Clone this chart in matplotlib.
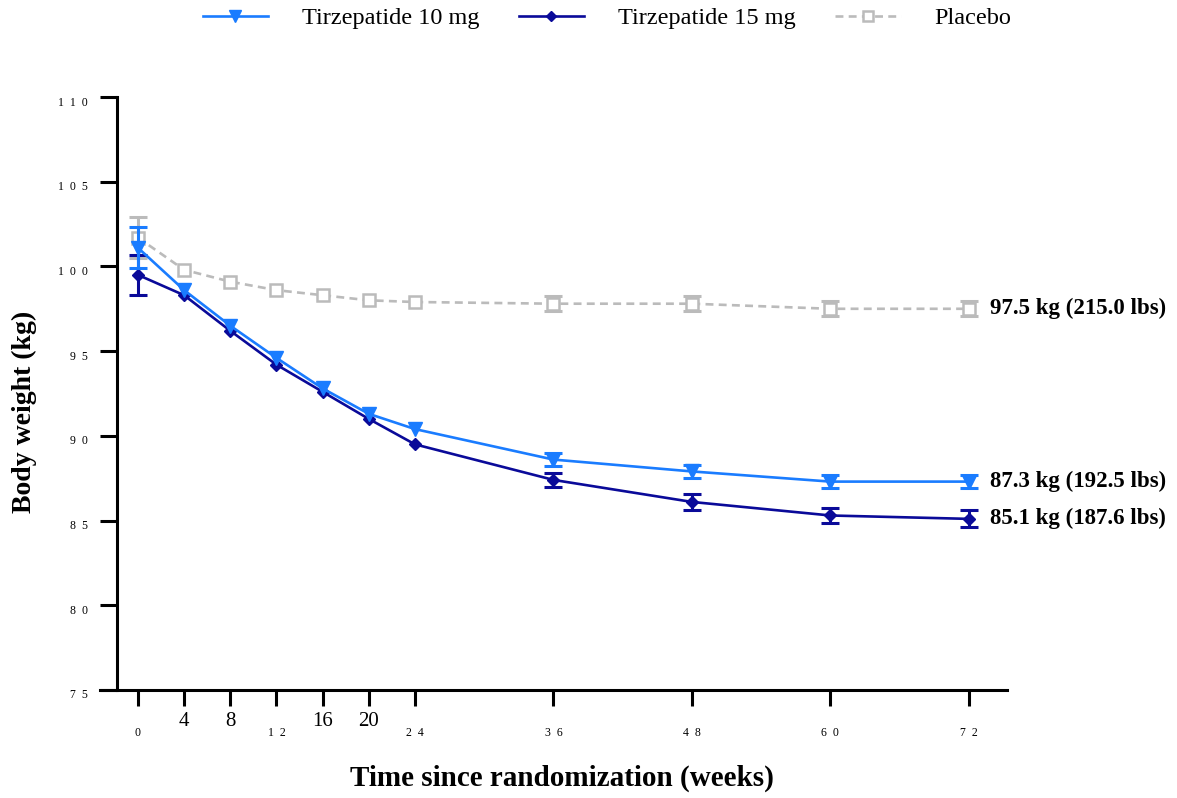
import matplotlib
matplotlib.use("Agg")
import matplotlib.pyplot as plt
import matplotlib.transforms as mtransforms

weeks = [0, 4, 8, 12, 16, 20, 24, 36, 48, 60, 72]
tz10 = [101.1, 98.6, 96.5, 94.6, 92.8, 91.3, 90.4, 88.6, 87.9, 87.3, 87.3]
tz10_err = [1.2, 0, 0, 0, 0, 0, 0, 0.4, 0.4, 0.4, 0.4]
tz15 = [99.5, 98.3, 96.2, 94.2, 92.6, 91.0, 89.5, 87.4, 86.1, 85.3, 85.1]
tz15_err = [1.2, 0, 0, 0, 0, 0, 0, 0.4, 0.45, 0.45, 0.5]
placebo = [101.7, 99.8, 99.1, 98.6, 98.3, 98.0, 97.9, 97.8, 97.8, 97.5, 97.5]
placebo_err = [1.2, 0, 0, 0, 0, 0, 0, 0.45, 0.45, 0.45, 0.45]
end_labels = ["87.3 kg (192.5 lbs)", "85.1 kg (187.6 lbs)", "97.5 kg (215.0 lbs)"]
xtick_labels = ["0", "4", "8", "1  2", "16", "20", "2  4", "3  6", "4  8", "6  0", "7  2"]
xtick_big = [False, True, True, False, True, True, False, False, False, False, False]
yticks = [75, 80, 85, 90, 95, 100, 105, 110]
ytick_labels = ["7  5", "8  0", "8  5", "9  0", "9  5", "1  0  0", "1  0  5", "1  1  0"]

c10 = "#1a7cff"
c15 = "#0a0a99"
cpl = "#bbbbbb"

plt.rcParams['font.family'] = ['Liberation Serif', 'DejaVu Serif']

fig = plt.figure(figsize=(11.77, 7.98), dpi=100)
ax = fig.add_axes([100/1177, 1-690/798, 907/1177, 593/798])
ax.set_xlim(-3.29, 75.3)
ax.set_ylim(75, 110)

lw = 1.9


def draw_err(x, y, e, color, z):
    xs = [a for a, b in zip(x, e) if b > 0]
    ys = [a for a, b in zip(y, e) if b > 0]
    es = [b for b in e if b > 0]
    ax.errorbar(xs, ys, yerr=es, color=color, ls='none', capsize=6.5,
                capthick=2.2, elinewidth=2.2, zorder=z)


# placebo
draw_err(weeks, placebo, placebo_err, cpl, 2)
lpl, = ax.plot(weeks, placebo, color=cpl, ls=(0, (3, 2)), lw=lw, marker='s', ms=9,
               mfc='white', mec=cpl, mew=1.8, zorder=3, label='Placebo')
# tz15
draw_err(weeks, tz15, tz15_err, c15, 4)
l15, = ax.plot(weeks, tz15, color=c15, lw=lw, marker='D', ms=6.5, mec=c15, zorder=5,
               label='Tirzepatide 15 mg')
# tz10
draw_err(weeks, tz10, tz10_err, c10, 6)
l10, = ax.plot(weeks, tz10, color=c10, lw=lw, marker='v', ms=10, mec=c10, zorder=7,
               label='Tirzepatide 10 mg')

# end labels
for vals, txt in zip([tz10, tz15, placebo], end_labels):
    ax.annotate(txt, xy=(weeks[-1], vals[-1]), xytext=(15, 0), textcoords='offset points',
                ha='left', va='center', fontsize=16.5, fontweight='bold', annotation_clip=False)

# spines
for s in ['top', 'right']:
    ax.spines[s].set_visible(False)
ax.spines['left'].set_position(('data', -1.82))
ax.spines['left'].set_linewidth(2.2)
ax.spines['bottom'].set_linewidth(2.2)

ax.set_yticks(yticks)
ax.set_yticklabels(ytick_labels, fontsize=8.5)
ax.tick_params(axis='y', direction='out', length=12, width=2.2, pad=9)
off = mtransforms.ScaledTranslation(0, -4/100, fig.dpi_scale_trans)
for lab in ax.get_yticklabels():
    lab.set_transform(lab.get_transform() + off)

ax.set_xticks(weeks)
ax.set_xticklabels([])
ax.tick_params(axis='x', direction='out', length=11.5, width=2.2)
trans = mtransforms.blended_transform_factory(ax.transData, fig.transFigure)
for w, lab, big in zip(weeks, xtick_labels, xtick_big):
    if big:
        ax.text(w, 1 - 722/798, lab, transform=trans, ha='center', va='center', fontsize=15)
    else:
        ax.text(w, 1 - 733/798, lab, transform=trans, ha='center', va='center', fontsize=8.5)

fig.text(562/1177, 1 - 778/798, "Time since randomization (weeks)", ha='center', va='center',
         fontsize=21, fontweight='bold')
fig.text(24/1177, 1 - 412/798, "Body weight (kg)", ha='center', va='center', rotation=90,
         fontsize=20, fontweight='bold')

fig.legend(handles=[l10, l15, lpl], labels=['Tirzepatide 10 mg', 'Tirzepatide 15 mg', 'Placebo'],
           loc='center', bbox_to_anchor=(607/1177, 1 - 18/798), ncol=3, frameon=False,
           fontsize=17.5, handlelength=2.7, handletextpad=1.4, columnspacing=1.6, markerscale=0.8)

fig.savefig("out.png", dpi=100)
